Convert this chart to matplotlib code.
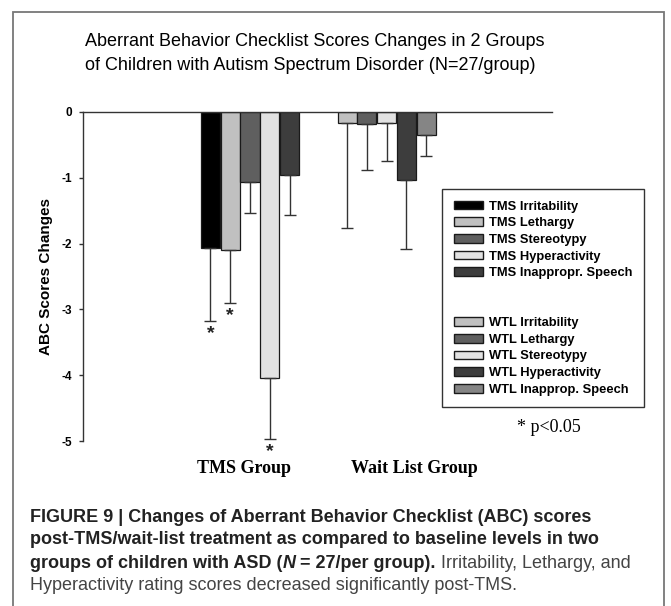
import matplotlib
matplotlib.use("Agg")
import matplotlib.pyplot as plt
import numpy as np
from matplotlib.patches import Patch, Rectangle
from matplotlib import transforms

plt.rcParams['font.family'] = ['Liberation Sans', 'DejaVu Sans']
plt.rcParams['axes.unicode_minus'] = False

# data
groups = ['TMS Group', 'Wait List Group']
scales = ['Irritability', 'Lethargy', 'Stereotypy', 'Hyperactivity', 'Inappropr. Speech']
tms_mean = [-2.07, -2.10, -1.07, -4.04, -0.95]
tms_err = [1.10, 0.80, 0.47, 0.93, 0.62]
tms_sig = [True, True, False, True, False]
wtl_mean = [-0.17, -0.18, -0.17, -1.04, -0.35]
wtl_err = [1.59, 0.70, 0.57, 1.04, 0.32]
tms_labels = ['TMS Irritability', 'TMS Lethargy', 'TMS Stereotypy', 'TMS Hyperactivity', 'TMS Inappropr. Speech']
wtl_labels = ['WTL Irritability', 'WTL Lethargy', 'WTL Stereotypy', 'WTL Hyperactivity', 'WTL Inapprop. Speech']
yticks = [0, -1, -2, -3, -4, -5]

tms_colors = ['#000000', '#c0c0c0', '#5f5f5f', '#e2e2e2', '#3d3d3d']
wtl_colors = ['#c0c0c0', '#5f5f5f', '#e2e2e2', '#3d3d3d', '#858585']

W, H = 671, 606
fig = plt.figure(figsize=(W / 100, H / 100), dpi=100)
ax = fig.add_axes([83 / W, 1 - 441 / H, (552 - 83) / W, (441 - 112) / H])

pitch = 0.1448
width = 0.139
offs = (np.arange(5) - 2) * pitch

for gi, (means, errs, cols) in enumerate([(tms_mean, tms_err, tms_colors),
                                          (wtl_mean, wtl_err, wtl_colors)]):
    xs = gi + offs
    ax.bar(xs, means, width, color=cols, edgecolor='#1a1a1a', linewidth=0.9,
           yerr=[errs, [0] * 5], capsize=4,
           error_kw=dict(ecolor='#333333', elinewidth=1.0, capthick=1.0))

# significance stars
for i in range(5):
    if tms_sig[i]:
        ax.annotate('*', xy=(offs[i], tms_mean[i] - tms_err[i]), xytext=(0, -9),
                    textcoords='offset points', ha='center', va='center',
                    fontsize=14, fontweight='bold', color='#222222')

ax.set_xlim(-(250 - 83) / 136.7, (552 - 250) / 136.7)
ax.set_ylim(-5, 0)
ax.set_yticks(yticks)
ax.set_yticklabels([str(t) for t in yticks], fontweight='bold', fontsize=8.5)
ax.tick_params(axis='y', direction='out', length=3, width=1, color='#333333', pad=5)
ax.set_xticks([])
for s in ['right', 'bottom']:
    ax.spines[s].set_visible(False)
for s in ['left', 'top']:
    ax.spines[s].set_color('#333333')
    ax.spines[s].set_linewidth(1.0)
ax.set_ylabel('ABC Scores Changes', fontweight='bold', fontsize=11, labelpad=6)

# group labels below the plot
trans = transforms.blended_transform_factory(ax.transData, ax.transAxes)
for gi, (g, dx) in enumerate(zip(groups, [-0.044, 0.2])):
    ax.text(gi + dx, -0.085, g, transform=trans, ha='center', va='center',
            fontsize=13, fontweight='bold', family='Liberation Serif')

# legend
handles = [Patch(facecolor=c, edgecolor='#1a1a1a', label=l) for c, l in zip(tms_colors, tms_labels)]
handles += [Patch(facecolor='none', edgecolor='none', label=' ') for _ in range(2)]
handles += [Patch(facecolor=c, edgecolor='#1a1a1a', label=l) for c, l in zip(wtl_colors, wtl_labels)]
leg = fig.legend(handles=handles, loc='upper left', bbox_to_anchor=(442 / W, 1 - 189 / H),
                 bbox_transform=fig.transFigure, borderaxespad=0, fancybox=False,
                 framealpha=1, edgecolor='#333333', prop=dict(weight='bold', size=9.3),
                 handlelength=2.3, handleheight=0.65, handletextpad=0.47,
                 labelspacing=0.36, borderpad=0.9)
leg.get_frame().set_linewidth(1.0)

fig.text(549 / W, 1 - 428 / H, '* p<0.05', ha='center', va='center',
         fontsize=13, family='Liberation Serif')

# title
fig.text(85 / W, 1 - 42 / H, 'Aberrant Behavior Checklist Scores Changes in 2 Groups',
         ha='left', va='center', fontsize=13)
fig.text(85 / W, 1 - 66 / H, 'of Children with Autism Spectrum Disorder (N=27/group)',
         ha='left', va='center', fontsize=13)

# outer frame
fig.patches.append(Rectangle((12.5 / W, -0.05), (664 - 12.5) / W, 1.05 - 11.5 / H,
                             transform=fig.transFigure, fill=False,
                             edgecolor='#777777', linewidth=1.3))

# caption
renderer = fig.canvas.get_renderer()
cap_size = 13
cap_col = '#222222'


def put(x, y, s, **kw):
    tt = fig.text(x / W, 1 - y / H, s, ha='left', va='center', fontsize=cap_size,
                  color=kw.pop('color', cap_col), **kw)
    bb = tt.get_window_extent(renderer=renderer)
    return bb.x1


put(30, 517, 'FIGURE 9 | Changes of Aberrant Behavior Checklist (ABC) scores', fontweight='bold')
put(30, 540, 'post-TMS/wait-list treatment as compared to baseline levels in two', fontweight='bold')
x = put(30, 563, 'groups of children with ASD (', fontweight='bold')
x = put(x, 563, 'N', fontweight='bold', style='italic')
x = put(x, 563, ' = 27/per group).', fontweight='bold')
put(x, 563, ' Irritability, Lethargy, and', color='#444444')
put(30, 586, 'Hyperactivity rating scores decreased significantly post-TMS.', color='#444444')

fig.savefig('out.png', dpi=100)
